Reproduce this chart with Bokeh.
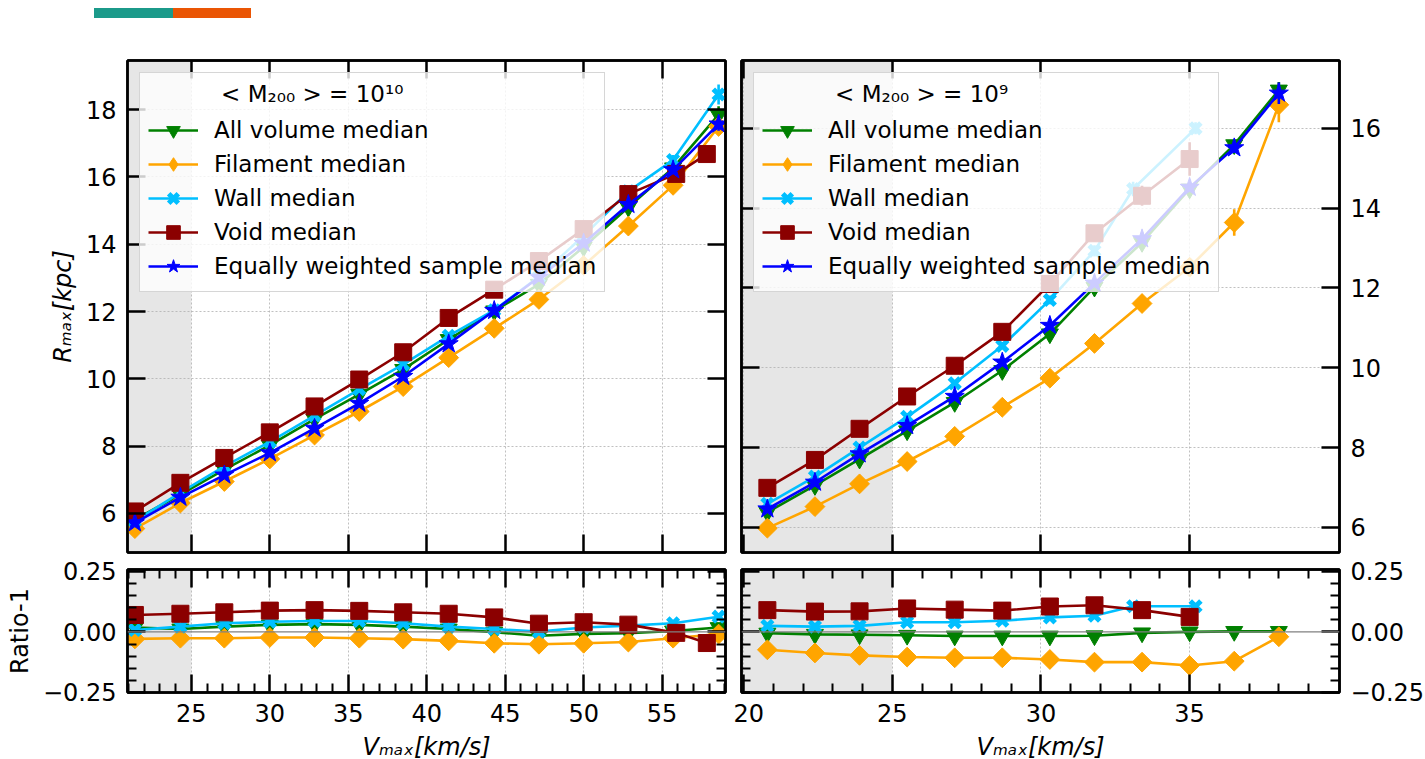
import math
from bokeh.plotting import figure
from bokeh.models import (Range1d, LinearAxis, FixedTicker, BoxAnnotation, Span,
                          Legend, LegendItem, CustomJSTickFormatter, Div)
from bokeh.layouts import row, column
from bokeh.embed import file_html
from bokeh.resources import INLINE

# ---------------- data: left panel  (<M200> = 1e10) ----------------
L_x = [21.4, 24.3, 27.1, 30.0, 32.85, 35.7, 38.5, 41.4, 44.3, 47.15, 50.0, 52.85, 55.7, 58.6]
L_void_x = [21.4, 24.3, 27.1, 30.0, 32.85, 35.7, 38.5, 41.4, 44.3, 47.15, 50.0, 52.85, 55.9, 57.85]

L_all = [5.82, 6.56, 7.30, 8.03, 8.80, 9.54, 10.28, 11.17, 12.02, 12.81, 13.92, 15.10, 16.27, 17.85]
L_fil = [5.55, 6.31, 6.95, 7.62, 8.33, 9.03, 9.77, 10.63, 11.50, 12.36, 13.37, 14.54, 15.75, 17.50]
L_wall = [5.77, 6.62, 7.40, 8.13, 8.91, 9.69, 10.43, 11.28, 12.04, 13.03, 14.25, 15.57, 16.50, 18.45]
L_void = [6.06, 6.91, 7.65, 8.41, 9.18, 9.98, 10.79, 11.81, 12.65, 13.50, 14.45, 15.49, 16.09, 16.68]
L_eq = [5.72, 6.48, 7.14, 7.80, 8.53, 9.27, 10.07, 11.04, 12.03, 13.02, 14.03, 15.18, 16.21, 17.57]

L_all_err = [0.03, 0.03, 0.03, 0.03, 0.04, 0.04, 0.05, 0.05, 0.06, 0.07, 0.08, 0.10, 0.12, 0.25]
L_fil_err = [0.04, 0.04, 0.04, 0.05, 0.05, 0.06, 0.06, 0.07, 0.08, 0.09, 0.10, 0.12, 0.15, 0.25]
L_wall_err = [0.04, 0.04, 0.04, 0.05, 0.05, 0.06, 0.06, 0.07, 0.08, 0.09, 0.10, 0.12, 0.15, 0.30]
L_void_err = [0.06, 0.06, 0.06, 0.07, 0.07, 0.08, 0.08, 0.09, 0.10, 0.12, 0.14, 0.16, 0.18, 0.22]
L_eq_err = [0.03, 0.03, 0.03, 0.03, 0.04, 0.04, 0.05, 0.05, 0.06, 0.07, 0.08, 0.10, 0.12, 0.20]

LR_all = [0.018, 0.012, 0.022, 0.029, 0.032, 0.029, 0.022, 0.012, -0.001, -0.016, -0.008, -0.005, 0.004, 0.018]
LR_fil = [-0.029, -0.026, -0.026, -0.023, -0.023, -0.026, -0.030, -0.037, -0.047, -0.051, -0.047, -0.042, -0.026, -0.009]
LR_wall = [0.008, 0.022, 0.036, 0.042, 0.045, 0.045, 0.036, 0.022, 0.012, 0.001, 0.018, 0.026, 0.036, 0.063]
LR_void = [0.070, 0.075, 0.081, 0.088, 0.090, 0.087, 0.081, 0.075, 0.060, 0.034, 0.040, 0.030, -0.004, -0.046]

# ---------------- data: right panel  (<M200> = 1e9) ----------------
R_x = [20.8, 22.4, 23.9, 25.5, 27.1, 28.7, 30.3, 31.8, 33.4, 35.0, 36.5, 38.0]
R_wall_x = [20.8, 22.4, 23.9, 25.5, 27.1, 28.7, 30.3, 31.8, 33.1, 35.2]
R_void_x = [20.8, 22.4, 23.9, 25.5, 27.1, 28.7, 30.3, 31.8, 33.4, 35.0]

R_all = [6.38, 7.05, 7.71, 8.42, 9.13, 9.93, 10.85, 12.02, 13.14, 14.48, 15.59, 16.96]
R_fil = [5.98, 6.52, 7.09, 7.65, 8.28, 9.01, 9.74, 10.61, 11.61, 12.52, 13.64, 16.59]
R_wall = [6.59, 7.27, 8.00, 8.77, 9.61, 10.55, 11.70, 12.93, 14.48, 16.00]
R_void = [6.99, 7.69, 8.47, 9.28, 10.05, 10.90, 12.10, 13.37, 14.31, 15.23]
R_eq = [6.46, 7.13, 7.84, 8.55, 9.28, 10.14, 11.06, 12.12, 13.23, 14.52, 15.51, 16.88]

R_all_err = [0.03, 0.03, 0.04, 0.04, 0.05, 0.05, 0.06, 0.07, 0.08, 0.10, 0.12, 0.20]
R_fil_err = [0.04, 0.05, 0.05, 0.06, 0.07, 0.08, 0.10, 0.12, 0.15, 0.20, 0.33, 0.44]
R_wall_err = [0.05, 0.05, 0.06, 0.07, 0.08, 0.09, 0.11, 0.14, 0.18, 0.15]
R_void_err = [0.06, 0.06, 0.06, 0.07, 0.08, 0.09, 0.12, 0.20, 0.25, 0.42]
R_eq_err = [0.03, 0.03, 0.03, 0.04, 0.04, 0.05, 0.06, 0.07, 0.08, 0.10, 0.12, 0.27]

RR_all = [-0.005, -0.010, -0.012, -0.014, -0.017, -0.017, -0.017, -0.016, -0.004, 0.000, 0.002, 0.002]
RR_fil = [-0.074, -0.087, -0.097, -0.104, -0.107, -0.107, -0.114, -0.125, -0.125, -0.139, -0.121, -0.020]
RR_wall = [0.025, 0.022, 0.025, 0.040, 0.040, 0.046, 0.060, 0.067, 0.106, 0.106]
RR_void = [0.090, 0.084, 0.085, 0.097, 0.092, 0.088, 0.105, 0.110, 0.090, 0.062]

labels = ["All volume median", "Filament median", "Wall median", "Void median",
          "Equally weighted sample median"]
titles = ["< M\u2082\u2080\u2080 > = 10\u00b9\u2070", "< M\u2082\u2080\u2080 > = 10\u2079"]

# ---------------- style ----------------
FONT = "DejaVu Sans"
STY = {
    "all": dict(color="green", marker="inverted_triangle", size=17, lw=1, angle=0.0, leg="inverted_triangle"),
    "fil": dict(color="orange", marker="square", size=14, lw=1, angle=math.pi / 4, leg="diamond"),
    "wall": dict(color="deepskyblue", marker="x", size=15, lw=5, angle=0.0, leg="x"),
    "void": dict(color="darkred", marker="square", size=17, lw=1, angle=0.0, leg="square"),
    "eq": dict(color="blue", marker="star", size=20, lw=1, angle=0.0, leg="star"),
}
NAN = float("nan")


def add_series(p, x, y, err, key):
    s = STY[key]
    rl = p.line(x, y, line_color=s["color"], line_width=2.6)
    if err is not None:
        p.segment(x0=x, y0=[a - b for a, b in zip(y, err)], x1=x,
                  y1=[a + b for a, b in zip(y, err)], line_color=s["color"], line_width=2.6)
    rs = p.scatter(x, y, marker=s["marker"], size=s["size"], fill_color=s["color"],
                   line_color=s["color"], line_width=s["lw"], angle=s["angle"])
    if s["leg"] != s["marker"]:
        # legend proxy (the legend draws markers unrotated)
        rs = p.scatter([NAN], [NAN], marker=s["leg"], fill_color=s["color"],
                       line_color=s["color"], line_width=s["lw"])
    return [rl, rs]


EMPTY = CustomJSTickFormatter(code="return '';")


def style_axis(ax, show_labels, label=None, label_standoff=6):
    ax.major_tick_in = 18
    ax.major_tick_out = 0
    ax.minor_tick_in = 9
    ax.minor_tick_out = 0
    ax.major_tick_line_width = 2.5
    ax.minor_tick_line_width = 2
    ax.major_tick_line_color = "black"
    ax.minor_tick_line_color = "black"
    ax.axis_line_width = 2.5
    ax.axis_line_color = "black"
    ax.major_label_text_font = FONT
    ax.major_label_text_color = "black"
    if show_labels:
        ax.major_label_text_font_size = "24px"
        ax.major_label_standoff = 11
    else:
        ax.formatter = EMPTY
        ax.major_label_text_font_size = "1px"
        ax.major_label_standoff = 0
    if label:
        ax.axis_label = label
        ax.axis_label_text_font = FONT
        ax.axis_label_text_font_size = "24px"
        ax.axis_label_text_color = "black"
        ax.axis_label_standoff = label_standoff


def make_fig(xr, yr, fh, borders, xt, yt, xlab_show, ylab_side, xlabel=None, ylabel=None,
             yformatter=None, ylabel_italic=True):
    top, bottom, left, right = borders
    p = figure(frame_width=598, frame_height=fh, x_range=Range1d(*xr), y_range=Range1d(*yr),
               output_backend="svg", toolbar_location=None,
               min_border_top=top, min_border_bottom=bottom,
               min_border_left=left, min_border_right=right)
    p.outline_line_color = "black"
    p.outline_line_width = 2.5
    p.background_fill_color = "white"
    p.border_fill_color = "white"
    above = LinearAxis()
    rightax = LinearAxis()
    p.add_layout(above, "above")
    p.add_layout(rightax, "right")
    bottomax = p.below[0]
    leftax = p.left[0]
    for ax in (above, bottomax):
        ax.ticker = xt
    for ax in (leftax, rightax):
        ax.ticker = yt
        if yformatter is not None:
            ax.formatter = yformatter
    style_axis(above, False)
    style_axis(bottomax, xlab_show, xlabel, 8)
    style_axis(leftax, ylab_side == "left", ylabel if ylab_side == "left" else None, 6)
    style_axis(rightax, ylab_side == "right")
    if xlabel:
        bottomax.axis_label_text_font_style = "italic"
    if ylabel and ylab_side == "left":
        leftax.axis_label_text_font_style = "italic" if ylabel_italic else "normal"
    p.xgrid.ticker = xt
    p.ygrid.ticker = yt
    for g in (p.xgrid[0], p.ygrid[0]):
        g.grid_line_color = "#b0b0b0"
        g.grid_line_dash = "2 2"
        g.grid_line_width = 1
        g.grid_line_alpha = 0.8
    shade = BoxAnnotation(right=25, fill_color="gray", fill_alpha=0.2, line_alpha=0, level="image")
    p.add_layout(shade)
    return p


def legend_for(p, items, title):
    leg = Legend(items=items, location="top_left",
                 title="\u00a0" * 10 + title)
    leg.margin = 12
    leg.padding = 8
    leg.spacing = 0
    leg.glyph_width = 50
    leg.glyph_height = 34
    leg.label_height = 34
    leg.label_standoff = 16
    leg.label_text_font = FONT
    leg.label_text_font_size = "23px"
    leg.label_text_color = "black"
    leg.title_text_font = FONT
    leg.title_text_font_size = "23px"
    leg.title_text_font_style = "normal"
    leg.title_text_color = "black"
    leg.title_standoff = 6
    leg.background_fill_color = "white"
    leg.background_fill_alpha = 0.8
    leg.border_line_color = "#cccccc"
    leg.border_line_alpha = 0.8
    leg.border_line_width = 1
    p.add_layout(leg)


ratio_fmt = CustomJSTickFormatter(
    code="return (tick < -1e-9 ? '\u2212' : '') + Math.abs(tick).toFixed(2);")

# tickers
LX = FixedTicker(ticks=[25, 30, 35, 40, 45, 50, 55], minor_ticks=[])
LXr = FixedTicker(ticks=[25, 30, 35, 40, 45, 50, 55],
                  minor_ticks=[v for v in range(21, 60) if v % 5 != 0])
RX = FixedTicker(ticks=[20, 25, 30, 35], minor_ticks=[])
RXr = FixedTicker(ticks=[20, 25, 30, 35],
                  minor_ticks=[v for v in range(21, 41) if v % 5 != 0])
LY = FixedTicker(ticks=[6, 8, 10, 12, 14, 16, 18], minor_ticks=[])
RY = FixedTicker(ticks=[6, 8, 10, 12, 14, 16], minor_ticks=[])
RATY = FixedTicker(ticks=[-0.25, 0.0, 0.25],
                   minor_ticks=[-0.2, -0.15, -0.1, -0.05, 0.05, 0.1, 0.15, 0.2])

L_XR = (20.93, 59.04)
R_XR = (19.93, 40.04)
RAT_YR = (-0.2505, 0.258)

# ---- left top ----
lt = make_fig(L_XR, (4.84, 19.46), 492, (42, 3, 127, 8), LX, LY, False, "left",
              ylabel="R\u2098\u2090\u2093[kpc]")
items = []
for key, x, y, e, lab in [("all", L_x, L_all, L_all_err, labels[0]),
                          ("fil", L_x, L_fil, L_fil_err, labels[1]),
                          ("wall", L_x, L_wall, L_wall_err, labels[2]),
                          ("void", L_void_x, L_void, L_void_err, labels[3]),
                          ("eq", L_x, L_eq, L_eq_err, labels[4])]:
    items.append(LegendItem(label=lab, renderers=add_series(lt, x, y, e, key)))
legend_for(lt, items, titles[0])

# ---- left ratio ----
lr = make_fig(L_XR, RAT_YR, 123, (14, 64, 127, 8), LXr, RATY, True, "left",
              xlabel="V\u2098\u2090\u2093[km/s]", ylabel="Ratio-1", yformatter=ratio_fmt,
              ylabel_italic=False)
lr.ygrid.visible = False
lr.add_layout(Span(location=0, dimension="width", line_color="gray", line_width=1.3))
for key, x, y in [("all", L_x, LR_all), ("fil", L_x, LR_fil), ("wall", L_x, LR_wall),
                  ("void", L_void_x, LR_void)]:
    add_series(lr, x, y, None, key)

# ---- right top ----
rt = make_fig(R_XR, (5.37, 17.70), 492, (42, 3, 8, 80), RX, RY, False, "right")
items = []
for key, x, y, e, lab in [("all", R_x, R_all, R_all_err, labels[0]),
                          ("fil", R_x, R_fil, R_fil_err, labels[1]),
                          ("wall", R_wall_x, R_wall, R_wall_err, labels[2]),
                          ("void", R_void_x, R_void, R_void_err, labels[3]),
                          ("eq", R_x, R_eq, R_eq_err, labels[4])]:
    items.append(LegendItem(label=lab, renderers=add_series(rt, x, y, e, key)))
legend_for(rt, items, titles[1])

# ---- right ratio ----
rr = make_fig(R_XR, RAT_YR, 123, (14, 64, 8, 80), RXr, RATY, True, "right",
              xlabel="V\u2098\u2090\u2093[km/s]", yformatter=ratio_fmt)
rr.ygrid.visible = False
rr.add_layout(Span(location=0, dimension="width", line_color="gray", line_width=1.3))
for key, x, y in [("all", R_x, RR_all), ("fil", R_x, RR_fil), ("wall", R_wall_x, RR_wall),
                  ("void", R_void_x, RR_void)]:
    add_series(rr, x, y, None, key)

bar = Div(text=('<div style="position:relative;width:251px;height:18px">'
                '<div style="position:absolute;left:94px;top:8px;width:79px;height:10px;background:#1b9a8a"></div>'
                '<div style="position:absolute;left:173px;top:8px;width:78px;height:10px;background:#ea5504"></div>'
                '</div>'),
          width=251, height=18, margin=(0, 0, 0, 0))

layout = column(bar, row(column(lt, lr, spacing=0), column(rt, rr, spacing=0), spacing=0),
                spacing=0)

open("out.html", "w").write(file_html(layout, INLINE))
